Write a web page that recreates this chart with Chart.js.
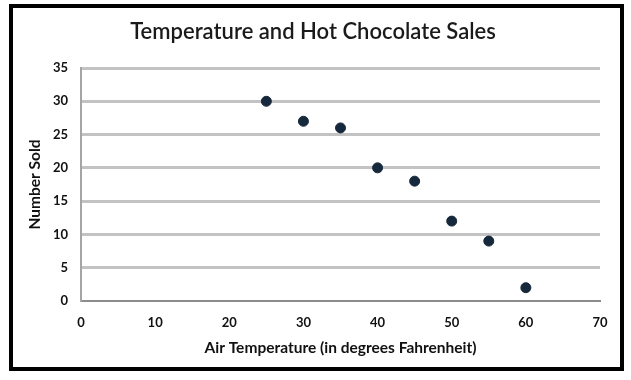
<!DOCTYPE html>
<html>
<head>
<meta charset="utf-8">
<script src="https://cdn.jsdelivr.net/npm/chart.js@4.4.1/dist/chart.umd.min.js"></script>
<style>
  html, body { margin: 0; padding: 0; background: #fff; }
  #wrap { position: absolute; left: 0; top: 0; width: 631px; height: 380px; }
  #frame { position: absolute; left: 9px; top: 4px; width: 607px; height: 359px; border: 4px solid #000; pointer-events: none; }
  canvas { position: absolute; left: 0; top: 0; }
</style>
</head>
<body>
<div id="wrap">
  <canvas id="c" width="631" height="380"></canvas>
  <div id="frame"></div>
</div>
<script>
const chartTitle = "Temperature and Hot Chocolate Sales";
const xAxisTitle = "Air Temperature (in degrees Fahrenheit)";
const yAxisTitle = "Number Sold";
const temperatures = [25, 30, 35, 40, 45, 50, 55, 60];
const numberSold = [30, 27, 26, 20, 18, 12, 9, 2];
const xTicks = [0, 10, 20, 30, 40, 50, 60, 70];
const yTicks = [0, 5, 10, 15, 20, 25, 30, 35];

const points = temperatures.map((t, i) => ({ x: t, y: numberSold[i] }));
const fontFamily = "Lato, 'Open Sans', sans-serif";

new Chart(document.getElementById('c'), {
  type: 'scatter',
  data: {
    datasets: [{
      data: points,
      backgroundColor: '#16283b',
      borderColor: '#16283b',
      pointRadius: 5,
      pointHoverRadius: 5
    }]
  },
  options: {
    responsive: false,
    animation: false,
    layout: { padding: { left: 26, right: 31, top: 0, bottom: 19 } },
    plugins: {
      legend: { display: false },
      tooltip: { enabled: false },
      title: {
        display: true,
        text: chartTitle,
        color: '#1a1a1a',
        font: { family: fontFamily, size: 22, weight: '600', lineHeight: 1.2 },
        padding: { top: 19, bottom: 22.6 }
      }
    },
    scales: {
      x: {
        type: 'linear',
        min: xTicks[0],
        max: xTicks[xTicks.length - 1],
        afterBuildTicks: s => { s.ticks = xTicks.map(v => ({ value: v })); },
        afterFit: s => { s.height = 60; },
        grid: { display: false, drawTicks: false },
        border: { display: true, color: '#8c8c8c', width: 2 },
        ticks: { color: '#111', padding: 14, font: { family: fontFamily, size: 13, weight: 'bold' } },
        title: {
          display: true,
          text: xAxisTitle,
          color: '#111',
          font: { family: fontFamily, size: 15.5, weight: 'bold' },
          padding: { top: 4, bottom: 4 }
        }
      },
      y: {
        type: 'linear',
        min: yTicks[0],
        max: yTicks[yTicks.length - 1],
        afterBuildTicks: s => { s.ticks = yTicks.map(v => ({ value: v })); },
        afterFit: s => { s.width = 55; },
        grid: {
          drawTicks: false,
          color: ctx => (ctx.tick && ctx.tick.value === 0) ? '#8c8c8c' : '#c3c3c3',
          lineWidth: ctx => (ctx.tick && ctx.tick.value === 0) ? 2 : 3
        },
        border: { display: true, color: '#a5a5a5', width: 2 },
        ticks: { color: '#111', padding: 13, font: { family: fontFamily, size: 13, weight: 'bold' } },
        title: {
          display: true,
          text: yAxisTitle,
          color: '#111',
          font: { family: fontFamily, size: 15.5, weight: 'bold' },
          padding: { top: 0, bottom: 4 }
        }
      }
    }
  }
});
</script>
</body>
</html>
